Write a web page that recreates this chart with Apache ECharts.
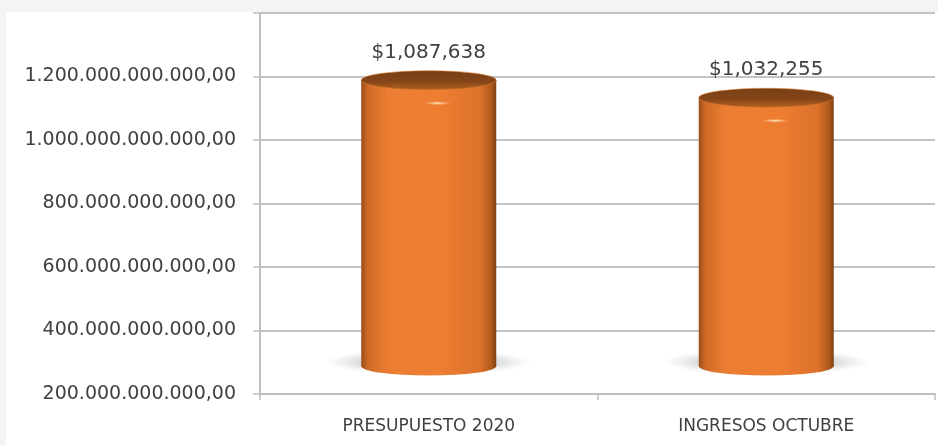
<!DOCTYPE html>
<html><head><meta charset="utf-8">
<script src="https://cdn.jsdelivr.net/npm/echarts@6/dist/echarts.min.js"></script>
<style>
html,body{margin:0;padding:0;background:#f4f4f4;width:938px;height:446px;overflow:hidden}
#c{position:absolute;left:6px;top:12px;width:932px;height:434px;background:#fff}
</style></head>
<body><div id="c"></div>
<script>
const categories = ['PRESUPUESTO 2020', 'INGRESOS OCTUBRE'];
const values = [1087638000000, 1032255000000];
const dataLabels = ['$1,087,638', '$1,032,255'];
const yTickLabels = ['200.000.000.000,00', '400.000.000.000,00', '600.000.000.000,00',
  '800.000.000.000,00', '1.000.000.000.000,00', '1.200.000.000.000,00', ''];
const yMin = 200000000000, yMax = 1400000000000, yStep = 200000000000;

const chart = echarts.init(document.getElementById('c'));
const G = echarts.graphic;

function ellipse(cx, cy, rx, ry, style, z2) {
  return { type: 'circle', shape: { cx: 0, cy: 0, r: rx }, x: cx, y: cy, scaleY: ry / rx, style: style, z2: z2 || 0 };
}

function renderItem(params, api) {
  const i = api.value(0), v = api.value(1);
  const top = api.coord([i, v]);
  const base = api.coord([i, yMin]);
  const w = api.size([1, 0])[0] * 0.4;
  const cx = top[0], ty = top[1] - 32, by = base[1] - 28;
  const rx = w / 2, ryT = 9.5, ryB = 9.5;
  const bodyGrad = new G.LinearGradient(0, 0, 1, 0, [
    { offset: 0, color: '#9c4c17' },
    { offset: 0.05, color: '#cf6b27' },
    { offset: 0.2, color: '#ec7e33' },
    { offset: 0.6, color: '#ed7d31' },
    { offset: 0.88, color: '#dc722c' },
    { offset: 0.96, color: '#b35a1d' },
    { offset: 1, color: '#7f3f12' }
  ]);
  const children = [
    ellipse(cx, by - 4, rx + 36, 13, {
      fill: new G.RadialGradient(0.5, 0.5, 0.5, [
        { offset: 0, color: 'rgba(100,100,100,0.45)' },
        { offset: 0.7, color: 'rgba(130,130,130,0.25)' },
        { offset: 1, color: 'rgba(170,170,170,0)' }
      ])
    }, 0),
    ellipse(cx, by, rx, ryB, { fill: bodyGrad }, 1),
    { type: 'rect', shape: { x: cx - rx, y: ty, width: w, height: by - ty }, style: { fill: bodyGrad }, z2: 2 },
    ellipse(cx, ty, rx, ryT, {
      fill: new G.LinearGradient(0, 0, 0, 1, [
        { offset: 0, color: '#7a3f14' },
        { offset: 0.55, color: '#84451a' },
        { offset: 1, color: '#b0601f' }
      ]),
      stroke: '#d9772f', lineWidth: 1
    }, 3),
    ellipse(cx + 9, ty + 23, 14, 2, {
      fill: new G.RadialGradient(0.5, 0.5, 0.5, [
        { offset: 0, color: 'rgba(255,235,200,0.95)' },
        { offset: 1, color: 'rgba(255,200,150,0)' }
      ])
    }, 4),
    {
      type: 'text', x: cx, y: ty - ryT - 8, z2: 5,
      style: {
        text: dataLabels[i], fill: '#404040', font: '20px "DejaVu Sans"',
        align: 'center', verticalAlign: 'bottom', textAlign: 'center', textVerticalAlign: 'bottom'
      }
    }
  ];
  return { type: 'group', children: children };
}

chart.setOption({
  animation: false,
  grid: { left: 254, right: 3, top: 1, bottom: 52 },
  xAxis: {
    type: 'category', data: categories, boundaryGap: true,
    axisLine: { show: true, lineStyle: { color: '#bfbfbf', width: 2 } },
    axisTick: { show: true, length: 6, lineStyle: { color: '#bfbfbf', width: 1.5 } },
    axisLabel: { color: '#404040', fontSize: 17, fontFamily: 'DejaVu Sans', margin: 24 }
  },
  yAxis: {
    type: 'value', min: yMin, max: yMax, interval: yStep,
    axisLine: { show: true, lineStyle: { color: '#bfbfbf', width: 2 } },
    axisTick: { show: true, length: 7, lineStyle: { color: '#bfbfbf', width: 1.5 } },
    splitLine: { show: true, lineStyle: { color: '#c3c3c3', width: 2 } },
    axisLabel: {
      color: '#404040', fontSize: 19, fontFamily: 'DejaVu Sans', margin: 24,
      formatter: function (v) { return yTickLabels[Math.round((v - yMin) / yStep)] || ''; }
    }
  },
  series: [{
    type: 'custom', renderItem: renderItem, clip: false,
    encode: { x: 0, y: 1 },
    data: values.map(function (v, i) { return [i, v]; })
  }]
});
</script>
</body></html>
